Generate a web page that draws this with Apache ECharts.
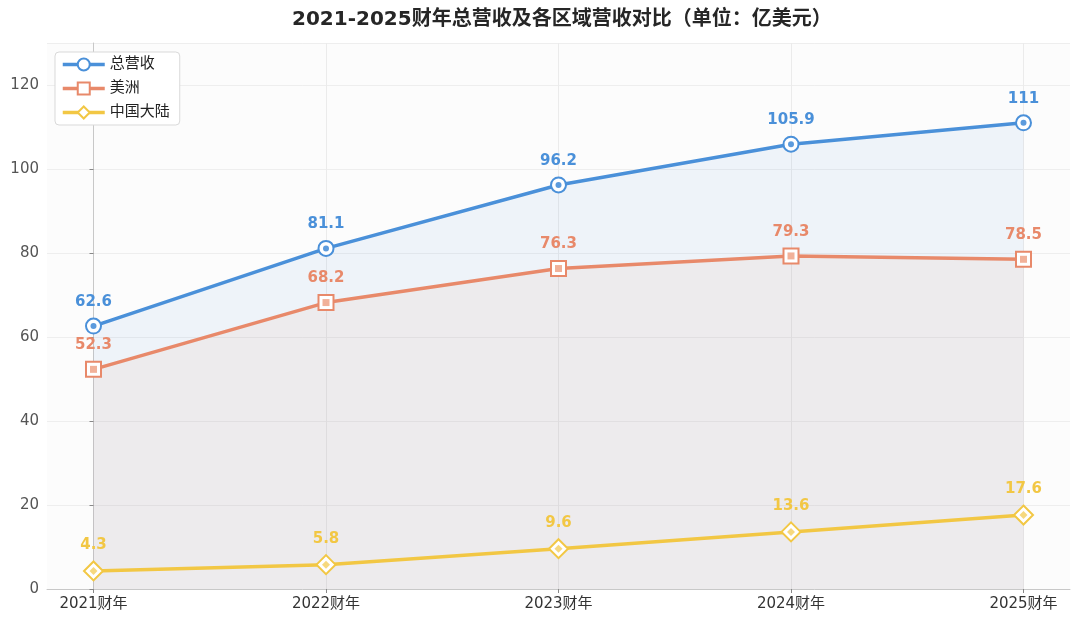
<!DOCTYPE html>
<html>
<head>
<meta charset="utf-8">
<script src="https://cdn.jsdelivr.net/npm/echarts@6/dist/echarts.min.js"></script>
<style>
  html, body { margin: 0; padding: 0; background: #fff; }
  #main { width: 1080px; height: 623px; }
</style>
</head>
<body>
<div id="main"></div>
<script>
var years = ['2021财年', '2022财年', '2023财年', '2024财年', '2025财年'];
var totalRev = [62.6, 81.1, 96.2, 105.9, 111];
var americasRev = [52.3, 68.2, 76.3, 79.3, 78.5];
var chinaRev = [4.3, 5.8, 9.6, 13.6, 17.6];

var fontFam = 'DejaVu Sans, Noto Sans CJK SC, sans-serif';

function pts(arr) {
    return arr.map(function (v, i) { return [i, v]; });
}

function mainSeries(name, arr, color, symbol, areaOpacity) {
    var s = {
        name: name,
        type: 'line',
        data: pts(arr),
        symbol: symbol,
        symbolSize: symbol === 'emptyDiamond' ? 19 : 15,
        z: 4,
        lineStyle: { color: color, width: 3.5 },
        itemStyle: { color: color, borderColor: color, borderWidth: 3 },
        label: {
            show: true,
            position: 'top',
            distance: 8,
            color: color,
            fontWeight: 'bold',
            fontSize: 15,
            fontFamily: fontFam
        }
    };
    if (areaOpacity) {
        s.areaStyle = { color: color, opacity: areaOpacity, origin: 'start' };
    }
    return s;
}

// small inner dot of each marker
function dotSeries(arr, color, symbol, size) {
    return {
        type: 'scatter',
        data: pts(arr),
        symbol: symbol,
        symbolSize: size,
        silent: true,
        z: 5,
        itemStyle: { color: color, opacity: 0.9 }
    };
}

var chart = echarts.init(document.getElementById('main'));

var option = {
    backgroundColor: '#fff',
    animation: false,
    title: {
        text: '2021-2025财年总营收及各区域营收对比（单位：亿美元）',
        left: 287,
        top: 5,
        textStyle: { fontSize: 20, fontWeight: 'bold', color: '#262626', fontFamily: fontFam }
    },
    legend: {
        data: ['总营收', '美洲', '中国大陆'],
        orient: 'vertical',
        left: 55,
        top: 52,
        itemWidth: 42,
        itemHeight: 15,
        itemGap: 9,
        padding: [5, 10, 5, 6],
        backgroundColor: '#fff',
        borderColor: '#d9d9d9',
        borderWidth: 1,
        borderRadius: 4,
        lineStyle: { width: 3.5 },
        textStyle: { fontSize: 15, color: '#222', fontFamily: fontFam }
    },
    grid: { left: 47, right: 10, top: 43, bottom: 34, show: true, backgroundColor: '#fcfcfc', borderWidth: 0 },
    xAxis: {
        type: 'value',
        min: -0.2,
        max: 4.2,
        axisLine: { show: true, lineStyle: { color: '#c8c8c8', width: 1 } },
        axisTick: { show: true, customValues: [0, 1, 2, 3, 4], length: 4, lineStyle: { color: '#888' } },
        axisLabel: {
            customValues: [0, 1, 2, 3, 4],
            formatter: function (v) { return years[Math.round(v)]; },
            fontSize: 15,
            color: '#333',
            margin: 8,
            fontFamily: fontFam
        },
        splitLine: { show: false }
    },
    yAxis: {
        type: 'value',
        min: 0,
        max: 130,
        interval: 20,
        axisLine: { show: true, lineStyle: { color: '#c8c8c8', width: 1 } },
        axisTick: { show: true, length: 4, lineStyle: { color: '#888' } },
        axisLabel: { fontSize: 15, color: '#555', margin: 8, showMaxLabel: false, fontFamily: fontFam },
        splitLine: { show: true, lineStyle: { color: '#eeeeee', width: 1 } }
    },
    series: [
        {
            type: 'line',
            data: [],
            silent: true,
            z: 0,
            markLine: {
                silent: true,
                z: 0,
                symbol: 'none',
                label: { show: false },
                lineStyle: { color: '#ebebeb', width: 1, type: 'solid' },
                data: years.map(function (y, i) { return { xAxis: i }; })
            }
        },
        mainSeries('总营收', totalRev, '#4a90d9', 'emptyCircle', 0.08),
        mainSeries('美洲', americasRev, '#e8896a', 'emptyRect', 0.08),
        mainSeries('中国大陆', chinaRev, '#f2c744', 'emptyDiamond', 0),
        dotSeries(totalRev, '#4a90d9', 'circle', 6),
        dotSeries(americasRev, '#f0a98e', 'rect', 7),
        dotSeries(chinaRev, '#f5d470', 'diamond', 8)
    ]
};

chart.setOption(option);
</script>
</body>
</html>
